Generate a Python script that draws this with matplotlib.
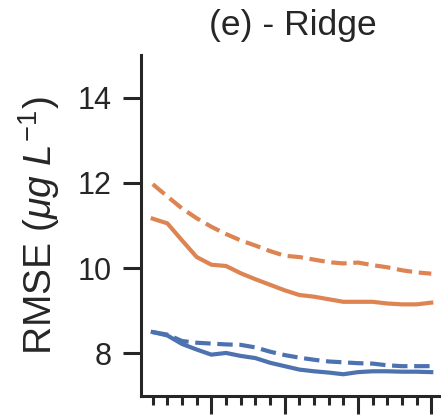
import numpy as np
import matplotlib
matplotlib.use("Agg")
import matplotlib.pyplot as plt
from matplotlib.ticker import MultipleLocator

plt.rcParams["font.family"] = ["Liberation Sans", "DejaVu Sans"]
plt.rcParams["mathtext.fontset"] = "custom"
plt.rcParams["mathtext.rm"] = "Liberation Sans"
plt.rcParams["mathtext.it"] = "Liberation Sans:italic"

# number of features / steps
steps = np.arange(1, 21)

# orange series (solid and dashed)
orange_solid = [11.16, 11.05, 10.65, 10.26, 10.08, 10.05, 9.88, 9.74, 9.61, 9.48,
                9.37, 9.33, 9.27, 9.21, 9.21, 9.21, 9.17, 9.15, 9.15, 9.19]
orange_dashed = [11.97, 11.68, 11.40, 11.17, 10.97, 10.80, 10.65, 10.53, 10.40, 10.29,
                 10.26, 10.20, 10.14, 10.11, 10.13, 10.07, 10.02, 9.95, 9.90, 9.87]

# blue series
blue_solid = [8.50, 8.42, 8.22, 8.09, 7.97, 8.01, 7.94, 7.89, 7.78, 7.70,
              7.62, 7.58, 7.55, 7.51, 7.56, 7.58, 7.58, 7.57, 7.57, 7.56]
blue_dashed = [8.50, 8.44, 8.29, 8.25, 8.23, 8.21, 8.20, 8.14, 8.04, 7.96,
               7.90, 7.85, 7.81, 7.79, 7.77, 7.76, 7.72, 7.70, 7.70, 7.70]

c_orange = "#dd8452"
c_blue = "#4c72b0"

fig = plt.figure(figsize=(4.41, 4.16), dpi=100)
ax = fig.add_axes([141 / 441, 20 / 416, 302 / 441, 341 / 416])

lw = 3
ax.plot(steps, orange_solid, color=c_orange, lw=lw)
ax.plot(steps, orange_dashed, color=c_orange, lw=lw, ls="--")
ax.plot(steps, blue_solid, color=c_blue, lw=lw)
ax.plot(steps, blue_dashed, color=c_blue, lw=lw, ls="--")

ax.set_xlim(0.2, 20.8)
ax.set_ylim(7, 15)
ax.set_yticks([8, 10, 12, 14])
ax.xaxis.set_major_locator(MultipleLocator(5))
ax.xaxis.set_minor_locator(MultipleLocator(1))

for side in ["top", "right"]:
    ax.spines[side].set_visible(False)
for side in ["left", "bottom"]:
    ax.spines[side].set_linewidth(2.2)
    ax.spines[side].set_color("#262626")

ax.tick_params(axis="both", which="major", length=13, width=2.2,
               labelsize=22, pad=8, color="#262626", labelcolor="#262626")
ax.tick_params(axis="x", which="minor", length=6.5, width=2.2, color="#262626")
ax.tick_params(axis="x", labelbottom=False)

ax.set_ylabel(r"RMSE ($\mu g\ L^{-1}$)", fontsize=28, color="#262626", labelpad=11)
fig.text(293 / 441, 1 - 25 / 416, "(e) - Ridge", fontsize=25.5, color="#262626",
         ha="center", va="center")

fig.savefig("out.png", dpi=100)
